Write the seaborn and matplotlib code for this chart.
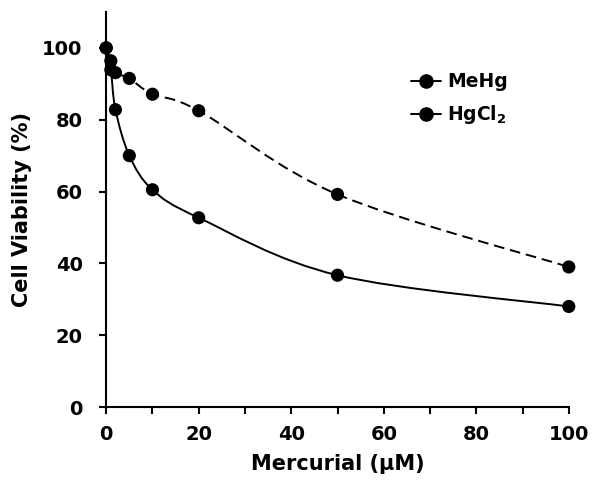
import numpy as np
import pandas as pd
import matplotlib
matplotlib.use("Agg")
import matplotlib.pyplot as plt
from matplotlib.path import Path
from matplotlib.patches import PathPatch
from matplotlib.lines import Line2D
import seaborn as sns

# data
conc = [0, 1, 2, 5, 10, 20, 50, 100]
mehg = [100, 93.9, 82.8, 70.0, 60.5, 52.7, 36.7, 28.0]
hgcl2 = [100, 96.4, 93.1, 91.5, 87.1, 82.5, 59.2, 39.0]
series_names = ["MeHg", "HgCl$_2$"]

df = pd.concat([
    pd.DataFrame({"conc": conc, "viability": mehg, "compound": series_names[0]}),
    pd.DataFrame({"conc": conc, "viability": hgcl2, "compound": series_names[1]}),
])

sns.set_style("ticks")
plt.rcParams['font.family'] = ['DejaVu Sans']
plt.rcParams['font.weight'] = 'bold'
plt.rcParams['text.color'] = 'black'
plt.rcParams['axes.labelcolor'] = 'black'
plt.rcParams['xtick.color'] = 'black'
plt.rcParams['ytick.color'] = 'black'
plt.rcParams['axes.edgecolor'] = 'black'


def smooth_path(xs, ys):
    # Excel-style smoothed line: cubic Bezier through the points (Catmull-Rom)
    pts = np.column_stack([xs, ys]).astype(float)
    ext = np.vstack([pts[0], pts, pts[-1]])
    verts = [pts[0]]
    codes = [Path.MOVETO]
    for i in range(1, len(ext) - 2):
        p0, p1, p2, p3 = ext[i - 1], ext[i], ext[i + 1], ext[i + 2]
        verts += [p1 + (p2 - p0) / 6, p2 - (p3 - p1) / 6, p2]
        codes += [Path.CURVE4] * 3
    return Path(verts, codes)


fig = plt.figure(figsize=(6, 4.93), dpi=100)
ax = fig.add_axes([0.177, 0.1744, 0.771, 0.8013])

styles = {series_names[0]: "-", series_names[1]: (0, (5.5, 3))}
for name, vals in [(series_names[0], mehg), (series_names[1], hgcl2)]:
    patch = PathPatch(smooth_path(conc, vals), facecolor="none", edgecolor="black",
                      lw=1.4, linestyle=styles[name], zorder=2)
    ax.add_patch(patch)

sns.scatterplot(data=df, x="conc", y="viability", hue="compound",
                palette=["black", "black"], s=90, edgecolor="black",
                linewidth=0, legend=False, ax=ax, zorder=3, clip_on=False)

ax.set_xlim(0, 100)
ax.set_ylim(0, 110)
ax.set_xticks(range(0, 101, 20))
ax.set_xticks(range(10, 100, 20), minor=True)
ax.set_yticks(range(0, 101, 20))
sns.despine(ax=ax)
for sp in ["left", "bottom"]:
    ax.spines[sp].set_linewidth(1.5)
ax.tick_params(which="both", direction="out", length=5, width=1.5, labelsize=14)
ax.tick_params(axis="x", pad=8)
ax.tick_params(axis="y", pad=12)
for lab in ax.get_xticklabels() + ax.get_yticklabels():
    lab.set_fontweight("bold")

ax.set_xlabel("Mercurial (µM)", fontsize=15, fontweight="bold", labelpad=7)
ax.set_ylabel("Cell Viability (%)", fontsize=15, fontweight="bold", labelpad=7)

handles = [Line2D([], [], color="black", lw=1.4, marker="o", markersize=9.5) for _ in series_names]
leg = ax.legend(handles, series_names, loc="upper left", bbox_to_anchor=(0.622, 0.89),
                frameon=False, handlelength=1.6, handletextpad=0.35, labelspacing=0.65,
                prop={"size": 13.5, "weight": "bold"})

fig.savefig("out.png", dpi=100)
